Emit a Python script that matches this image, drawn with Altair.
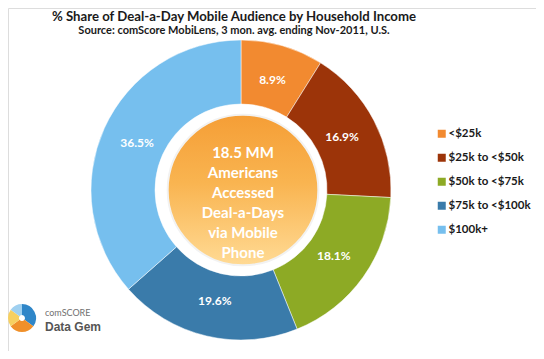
import altair as alt
import pandas as pd

categories = ["<$25k", "$25k to <$50k", "$50k to <$75k", "$75k to <$100k", "$100k+"]
shares = [8.9, 16.9, 18.1, 19.6, 36.5]
colors = ["#F28A30", "#9C3409", "#8DAA25", "#3A7BAA", "#76BFEE"]

center_lines = ["18.5 MM", "Americans", "Accessed", "Deal-a-Days", "via Mobile", "Phone"]
title_text = "% Share of Deal-a-Day Mobile Audience by Household Income"
subtitle_text = "Source: comScore MobiLens, 3 mon. avg. ending Nov-2011, U.S."

logo_parts = ["a", "b", "c", "d"]
logo_shares = [35, 30, 20, 15]
logo_colors = ["#2F86C8", "#F0902A", "#F7D060", "#9FD0F0"]

FONT = "Lato"

df = pd.DataFrame({
    "cat": categories,
    "share": shares,
    "idx": list(range(len(categories))),
    "label": [f"{v:.1f}%" for v in shares],
})

CX, CY = 233, 182

base = alt.Chart(df).encode(
    theta=alt.Theta("share:Q", stack=True),
    order=alt.Order("idx:Q"),
)

slices = base.mark_arc(outerRadius=150, innerRadius=86, stroke="#ffffff", strokeWidth=0.5).encode(
    x=alt.value(CX), y=alt.value(CY),
    color=alt.Color(
        "cat:N",
        scale=alt.Scale(domain=categories, range=colors),
        sort=categories,
        legend=alt.Legend(
            title=None, orient="none", legendX=428, legendY=120,
            symbolType="square", symbolSize=64, symbolStrokeWidth=0,
            labelFont=FONT, labelFontSize=11.5, labelFontWeight="bold",
            labelColor="#1a1a1a", rowPadding=11, labelOffset=1,
        ),
    ),
)

labels = base.mark_text(radius=114, font=FONT, fontSize=12, fontWeight="bold", color="white").encode(
    x=alt.value(CX), y=alt.value(CY),
    text="label:N",
)

one = pd.DataFrame({"k": [0]})

circle = alt.Chart(one).mark_circle(
    size=3.14159 * 85 * 85,
    opacity=1,
    stroke="#f2f2f2",
    strokeWidth=2,
    fill=alt.LinearGradient(
        gradient="linear", x1=0.5, y1=0, x2=0.5, y2=1,
        stops=[
            alt.GradientStop(offset=0, color="#F59E36"),
            alt.GradientStop(offset=0.45, color="#F9B450"),
            alt.GradientStop(offset=1, color="#FFDA94"),
        ],
    ),
).encode(x=alt.value(CX + 2), y=alt.value(CY))

center_text = alt.Chart(one).mark_text(
    text=center_lines, lineHeight=20, font=FONT, fontSize=15, fontWeight="bold",
    color="white", baseline="middle", align="center",
).encode(x=alt.value(CX + 2), y=alt.value(CY - 37))

title = alt.Chart(one).mark_text(
    text=title_text, font=FONT, fontSize=13.2, fontWeight="bold", color="#1a1a1a",
    baseline="middle", align="center",
).encode(x=alt.value(226), y=alt.value(9))

subtitle = alt.Chart(one).mark_text(
    text=subtitle_text, font=FONT, fontSize=11, fontWeight="bold", color="#1a1a1a",
    baseline="middle", align="center",
).encode(x=alt.value(226), y=alt.value(23))

logo_df = pd.DataFrame({"p": logo_parts, "v": logo_shares, "i": list(range(4))})
logo = alt.Chart(logo_df).mark_arc(outerRadius=14, innerRadius=3).encode(
    x=alt.value(14), y=alt.value(310),
    theta=alt.Theta("v:Q", stack=True),
    order=alt.Order("i:Q"),
    fill=alt.Fill("p:N", scale=alt.Scale(domain=logo_parts, range=logo_colors), legend=None),
)
logo_t1 = alt.Chart(one).mark_text(
    text="comSCORE", font=FONT, fontSize=9, color="#707070", align="left", baseline="middle",
).encode(x=alt.value(37), y=alt.value(305))
logo_t2 = alt.Chart(one).mark_text(
    text="Data Gem", font="Liberation Sans", fontSize=12, fontWeight="bold", color="#555555",
    align="left", baseline="middle",
).encode(x=alt.value(37), y=alt.value(319))

chart = alt.layer(
    slices, labels, circle, center_text, title, subtitle, logo, logo_t1, logo_t2
).resolve_scale(color="independent", fill="independent").properties(
    width=528, height=343, padding=0, autosize=alt.AutoSizeParams(type="none"),
).configure_view(stroke=None).configure(background="white")

chart.save("out.html", embed_options={"renderer": "svg", "actions": False})
